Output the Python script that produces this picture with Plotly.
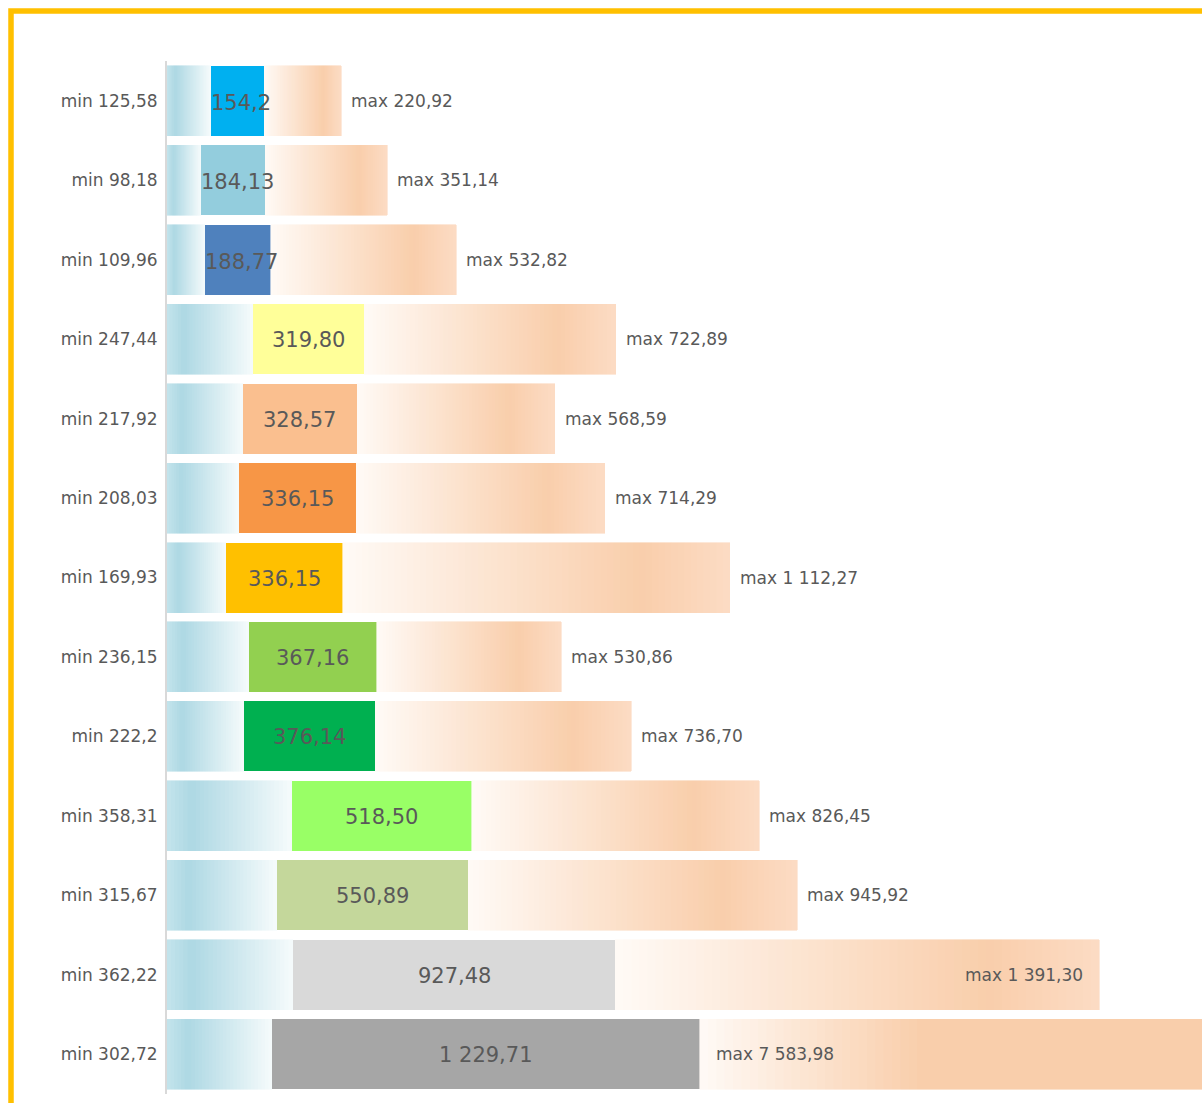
import plotly.graph_objects as go

# ---------------- data ----------------
min_vals = [125.58, 98.18, 109.96, 247.44, 217.92, 208.03, 169.93, 236.15, 222.2, 358.31, 315.67, 362.22, 302.72]
med_vals = [154.2, 184.13, 188.77, 319.80, 328.57, 336.15, 336.15, 367.16, 376.14, 518.50, 550.89, 927.48, 1229.71]
max_vals = [220.92, 351.14, 532.82, 722.89, 568.59, 714.29, 1112.27, 530.86, 736.70, 826.45, 945.92, 1391.30, 7583.98]

min_labels = ["min 125,58", "min 98,18", "min 109,96", "min 247,44", "min 217,92", "min 208,03",
              "min 169,93", "min 236,15", "min 222,2", "min 358,31", "min 315,67", "min 362,22", "min 302,72"]
med_labels = ["154,2", "184,13", "188,77", "319,80", "328,57", "336,15", "336,15", "367,16",
              "376,14", "518,50", "550,89", "927,48", "1 229,71"]
max_labels = ["max 220,92", "max 351,14", "max 532,82", "max 722,89", "max 568,59", "max 714,29",
              "max 1 112,27", "max 530,86", "max 736,70", "max 826,45", "max 945,92", "max 1 391,30",
              "max 7 583,98"]
med_colors = ["#00B0F0", "#93CDDD", "#4F81BD", "#FFFF99", "#FABF8F", "#F79646", "#FFC000",
              "#92D050", "#00B050", "#99FF66", "#C4D79B", "#D9D9D9", "#A6A6A6"]

# ---------------- layout constants ----------------
W, H = 1202, 1103
ML, MR, MT, MB = 167, 0, 61, 9
PLOT_W = W - ML - MR
PX_PER_UNIT = 0.3477
X_MAX = PLOT_W / PX_PER_UNIT
FONT = "Century Gothic, DejaVu Sans, sans-serif"
TXT = "#595959"

MIN_STOPS = [(0.0, "#C4E4EC"), (0.2, "#ADD8E3"), (1.0, "#F6FBFC")]
MAX_STOPS = [(0.0, "#FFFAF6"), (0.77, "#F9CEAB"), (1.0, "#FCDCC4")]
MAX_STOPS_CLIP = [(0.0, "#FFFAF6"), (0.44, "#F9CEAB"), (1.0, "#F9CEAB")]


def hex2rgb(h):
    h = h.lstrip("#")
    return [int(h[i:i + 2], 16) for i in (0, 2, 4)]


def interp(stops, f):
    for (f0, c0), (f1, c1) in zip(stops[:-1], stops[1:]):
        if f0 <= f <= f1:
            t = 0 if f1 == f0 else (f - f0) / (f1 - f0)
            a, b = hex2rgb(c0), hex2rgb(c1)
            r = [round(a[i] + (b[i] - a[i]) * t) for i in range(3)]
            return "rgb(%d,%d,%d)" % tuple(r)
    return stops[-1][1]


CW = {"m": 0.974, "a": 0.613, "x": 0.592, "i": 0.278, "n": 0.634, " ": 0.318, ",": 0.318}


def text_w(s, size):
    return sum(CW.get(c, 0.636) for c in s) * size


cats = min_labels
fig = go.Figure()

N_MIN = 30
for k in range(N_MIN):
    f = (k + 0.5) / N_MIN
    col = interp(MIN_STOPS, f)
    fig.add_trace(go.Bar(y=cats, x=[v / N_MIN for v in min_vals], orientation="h",
                         marker=dict(color=col, line=dict(width=0.6, color=col)),
                         hoverinfo="skip", showlegend=False))

fig.add_trace(go.Bar(y=cats, x=med_vals, orientation="h",
                     marker=dict(color=med_colors, line=dict(width=0)),
                     hoverinfo="skip", showlegend=False))

N_MAX = 60
widths = []
colors = []
for mn, md, mx in zip(min_vals, med_vals, max_vals):
    visible = X_MAX - (mn + md)
    if mx <= visible:
        w = [mx / N_MAX] * N_MAX
        c = [interp(MAX_STOPS, (k + 0.5) / N_MAX) for k in range(N_MAX)]
    else:
        w = [visible / N_MAX] * (N_MAX - 1) + [mx - visible * (N_MAX - 1) / N_MAX]
        c = [interp(MAX_STOPS_CLIP, (k + 0.5) / N_MAX) for k in range(N_MAX)]
    widths.append(w)
    colors.append(c)

for k in range(N_MAX):
    cols = [colors[i][k] for i in range(len(cats))]
    fig.add_trace(go.Bar(y=cats, x=[widths[i][k] for i in range(len(cats))], orientation="h",
                         marker=dict(color=cols, line=dict(width=0.6, color=cols)),
                         hoverinfo="skip", showlegend=False))

annotations = []
MED_SIZE = 21
LBL_SIZE = 17
for i, c in enumerate(cats):
    seg_px = med_vals[i] * PX_PER_UNIT
    tw = text_w(med_labels[i], MED_SIZE)
    if tw > seg_px:
        annotations.append(dict(x=min_vals[i], y=c, text=med_labels[i], xanchor="left",
                                showarrow=False, font=dict(size=MED_SIZE, color=TXT, family=FONT),
                                xshift=-2, yshift=-2))
    else:
        annotations.append(dict(x=min_vals[i] + med_vals[i] / 2, y=c, text=med_labels[i],
                                xanchor="center", showarrow=False,
                                font=dict(size=MED_SIZE, color=TXT, family=FONT), yshift=-1))
    total = min_vals[i] + med_vals[i] + max_vals[i]
    end_px = total * PX_PER_UNIT
    lw = text_w(max_labels[i], LBL_SIZE)
    if total > X_MAX:
        annotations.append(dict(x=min_vals[i] + med_vals[i], y=c, text=max_labels[i],
                                xanchor="left", showarrow=False, xshift=14,
                                font=dict(size=LBL_SIZE, color=TXT, family=FONT)))
    elif end_px + 9 + lw > PLOT_W:
        annotations.append(dict(x=total, y=c, text=max_labels[i], xanchor="right",
                                showarrow=False, xshift=-14,
                                font=dict(size=LBL_SIZE, color=TXT, family=FONT)))
    else:
        annotations.append(dict(x=total, y=c, text=max_labels[i], xanchor="left",
                                showarrow=False, xshift=8,
                                font=dict(size=LBL_SIZE, color=TXT, family=FONT)))

plot_h = H - MT - MB
bx = (11 - ML) / PLOT_W
by = (H - MB - 11) / plot_h

fig.update_layout(
    width=W, height=H,
    margin=dict(l=ML, r=MR, t=MT, b=MB, pad=0),
    barmode="stack", bargap=0.119,
    plot_bgcolor="white", paper_bgcolor="white",
    font=dict(family=FONT, color=TXT),
    annotations=annotations,
    shapes=[dict(type="rect", xref="paper", yref="paper", x0=bx, x1=1.3, y0=-0.3, y1=by,
                 line=dict(color="#FFC000", width=5.5), fillcolor="rgba(0,0,0,0)", layer="above")],
    xaxis=dict(range=[0, X_MAX], visible=False, fixedrange=True),
    yaxis=dict(categoryorder="array", categoryarray=cats, autorange="reversed",
               showline=True, linecolor="#D9D9D9", linewidth=2, showgrid=False,
               ticks="", ticklabelstandoff=4, tickfont=dict(size=LBL_SIZE, color=TXT, family=FONT),
               zeroline=False),
)
fig.update_traces(cliponaxis=True)
fig.write_html("out.html", config={"displayModeBar": False},
               post_script="document.body.style.margin='0';document.body.style.overflow='hidden';")
